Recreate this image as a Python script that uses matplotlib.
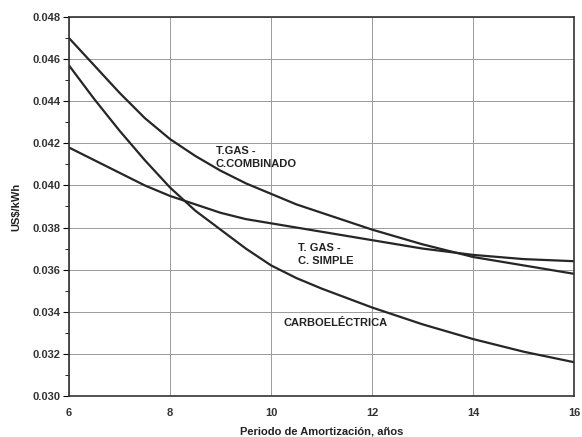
import matplotlib
matplotlib.use("Agg")
import matplotlib.pyplot as plt
from matplotlib.ticker import MultipleLocator

plt.rcParams['font.family'] = ['Liberation Sans', 'DejaVu Sans']

# Periodo de amortizacion (anos)
years = [6, 6.5, 7, 7.5, 8, 8.5, 9, 9.5, 10, 10.5, 11, 12, 13, 14, 15, 16]

# Costo nivelado, US$/kWh
combinado = [0.0470, 0.0457, 0.0444, 0.0432, 0.0422, 0.0414, 0.0407, 0.0401, 0.0396,
             0.0391, 0.0387, 0.0379, 0.0372, 0.0366, 0.0362, 0.0358]
simple = [0.0418, 0.0412, 0.0406, 0.0400, 0.0395, 0.0391, 0.0387, 0.0384, 0.0382,
          0.0380, 0.0378, 0.0374, 0.0370, 0.0367, 0.0365, 0.0364]
carbo = [0.0457, 0.0441, 0.0426, 0.0412, 0.0399, 0.0388, 0.0379, 0.0370, 0.0362,
         0.0356, 0.0351, 0.0342, 0.0334, 0.0327, 0.0321, 0.0316]

x_ticks = [6, 8, 10, 12, 14, 16]
y_ticks = [0.030, 0.032, 0.034, 0.036, 0.038, 0.040, 0.042, 0.044, 0.046, 0.048]

fig = plt.figure(figsize=(5.82, 4.37), dpi=100)
ax = fig.add_axes([0.1186, 0.094, 0.868, 0.867])

line_kw = dict(color='#262626', linewidth=1.6)
ax.plot(years, combinado, **line_kw)
ax.plot(years, simple, **line_kw)
ax.plot(years, carbo, **line_kw)

ax.set_xlim(6, 16)
ax.set_ylim(0.030, 0.048)
ax.set_xticks(x_ticks)
ax.set_yticks(y_ticks)
ax.set_yticklabels(['%.3f' % v for v in y_ticks])
ax.yaxis.set_minor_locator(MultipleLocator(0.001))
ax.grid(True, which='major', color='#9a9a9a', linewidth=0.7)

ax.tick_params(axis='x', length=0, pad=9, labelsize=8)
ax.tick_params(axis='y', which='major', length=4, direction='out', labelsize=8, pad=2)
ax.tick_params(axis='y', which='minor', length=3, direction='out')
for lab in ax.get_xticklabels() + ax.get_yticklabels():
    lab.set_fontweight('bold')
    lab.set_color('#333333')

for s in ax.spines.values():
    s.set_color('#333333')
    s.set_linewidth(1.2)

ax.set_xlabel('Periodo de Amortización, años', fontsize=8, fontweight='bold', color='#222222', labelpad=6)
ax.set_ylabel('US$/kWh', fontsize=8, fontweight='bold', color='#222222', labelpad=8)

txt_kw = dict(fontsize=8, fontweight='bold', color='#222222', va='top', ha='left', linespacing=1.3)
ax.text(8.9, 0.04185, 'T.GAS -\nC.COMBINADO', **txt_kw)
ax.text(10.54, 0.03725, 'T. GAS -\nC. SIMPLE', **txt_kw)
ax.text(10.24, 0.03370, 'CARBOELÉCTRICA', **txt_kw)

fig.savefig('out.png', dpi=100)
